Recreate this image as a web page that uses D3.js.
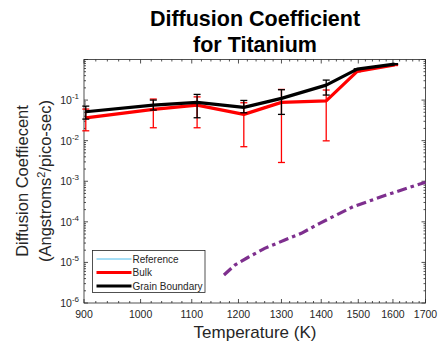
<!DOCTYPE html>
<html>
<head>
<meta charset="utf-8">
<script src="https://cdn.jsdelivr.net/npm/d3@7"></script>
<style>
  body { margin: 0; background: #fff; }
  text { font-family: "Liberation Sans", Arial, sans-serif; }
</style>
</head>
<body>
<div id="chart"></div>
<script>
// temperatures (K) of the simulation points
const temps = [903, 1024, 1111, 1212, 1300, 1413, 1497, 1605];
// bulk diffusion coefficient with error bar ends
const bulk = [0.0366, 0.059, 0.0753, 0.0444, 0.0877, 0.096, 0.51, 0.73];
const bulkLo = [0.0175, 0.0208, 0.0208, 0.0071, 0.0029, 0.0099, 0.5, 0.71];
const bulkHi = [0.06, 0.106, 0.12, 0.086, 0.183, 0.177, 0.52, 0.75];
// grain boundary diffusion coefficient with error bar ends
const grain = [0.0515, 0.0753, 0.0877, 0.066, 0.11, 0.234, 0.58, 0.77];
const grainLo = [0.034, 0.0568, 0.0367, 0.0487, 0.0444, 0.133, 0.57, 0.75];
const grainHi = [0.071, 0.1, 0.138, 0.098, 0.18, 0.311, 0.59, 0.79];
// reference curve (dash-dot purple)
const refT = [1168, 1192, 1222, 1260, 1308, 1349, 1396, 1485, 1580, 1700];
const refD = [4.9e-6, 8.6e-6, 1.34e-5, 2.22e-5, 3.56e-5, 5.2e-5, 9.2e-5, 2.35e-4, 4.57e-4, 9.5e-4];
const xTicks = [900, 1000, 1100, 1200, 1300, 1400, 1500, 1600, 1700];
const yTicks = [1e-6, 1e-5, 1e-4, 1e-3, 1e-2, 1e-1];
const legendNames = ["Reference", "Bulk", "Grain Boundary"];

const W = 439, H = 347;
const margin = {top: 59.5, right: 13.5, bottom: 44, left: 84};
const iw = W - margin.left - margin.right, ih = H - margin.top - margin.bottom;

const svg = d3.select("#chart").append("svg").attr("width", W).attr("height", H);
const g = svg.append("g").attr("transform", "translate(" + margin.left + "," + margin.top + ")");

const x = d3.scaleLog().domain([900, 1700]).range([0, iw]);
const y = d3.scaleLog().domain([1e-6, 1]).range([ih, 0]);

const axisCol = "#262626";

// minor ticks
const xMinor = d3.range(920, 1700, 20).filter(v => v % 100 != 0);
const yMinor = [];
for (let e = -6; e < 0; e++) for (let k = 2; k <= 9; k++) yMinor.push(k * Math.pow(10, e));

const tk = g.append("g").attr("stroke", axisCol).attr("stroke-width", 0.8);
xTicks.forEach(v => {
  tk.append("line").attr("x1", x(v)).attr("x2", x(v)).attr("y1", ih).attr("y2", ih - 4);
  tk.append("line").attr("x1", x(v)).attr("x2", x(v)).attr("y1", 0).attr("y2", 4);
});
xMinor.forEach(v => {
  tk.append("line").attr("x1", x(v)).attr("x2", x(v)).attr("y1", ih).attr("y2", ih - 2);
  tk.append("line").attr("x1", x(v)).attr("x2", x(v)).attr("y1", 0).attr("y2", 2);
});
yTicks.concat([1]).forEach(v => {
  tk.append("line").attr("x1", 0).attr("x2", 4).attr("y1", y(v)).attr("y2", y(v));
  tk.append("line").attr("x1", iw).attr("x2", iw - 4).attr("y1", y(v)).attr("y2", y(v));
});
yMinor.forEach(v => {
  tk.append("line").attr("x1", 0).attr("x2", 2).attr("y1", y(v)).attr("y2", y(v));
  tk.append("line").attr("x1", iw).attr("x2", iw - 2).attr("y1", y(v)).attr("y2", y(v));
});

// box
g.append("rect").attr("width", iw).attr("height", ih)
  .attr("fill", "none").attr("stroke", axisCol).attr("stroke-width", 0.8);

// tick labels
xTicks.forEach(v => {
  g.append("text").attr("x", x(v)).attr("y", ih + 15).attr("text-anchor", "middle")
    .attr("font-size", 10.5).attr("fill", axisCol).text(v);
});
yTicks.forEach(v => {
  const t = g.append("text").attr("x", -5).attr("y", y(v) + 4).attr("text-anchor", "end")
    .attr("font-size", 10.5).attr("fill", axisCol);
  t.append("tspan").text("10");
  t.append("tspan").attr("dy", -5).attr("font-size", 8).text(Math.round(Math.log10(v)));
});

// reference curve
const line = d3.line().x(d => x(d[0])).y(d => y(d[1]));
g.append("path").datum(refT.map((t, i) => [t, refD[i]]))
  .attr("d", line).attr("fill", "none").attr("stroke", "#7E2F8E")
  .attr("stroke-width", 3.2).attr("stroke-dasharray", "10,4,3.5,4");

function series(vals, lo, hi, col) {
  g.append("path").datum(temps.map((t, i) => [t, vals[i]]))
    .attr("d", line).attr("fill", "none").attr("stroke", col)
    .attr("stroke-width", 3.2).attr("stroke-linejoin", "round");
  const eb = g.append("g").attr("stroke", col).attr("stroke-width", 1.3);
  temps.forEach((t, i) => {
    const cx = x(t);
    eb.append("line").attr("x1", cx).attr("x2", cx).attr("y1", y(lo[i])).attr("y2", y(hi[i]));
    eb.append("line").attr("x1", cx - 3.5).attr("x2", cx + 3.5).attr("y1", y(lo[i])).attr("y2", y(lo[i]));
    eb.append("line").attr("x1", cx - 3.5).attr("x2", cx + 3.5).attr("y1", y(hi[i])).attr("y2", y(hi[i]));
  });
}
series(bulk, bulkLo, bulkHi, "#FF0000");
series(grain, grainLo, grainHi, "#000000");

// legend
const lg = g.append("g").attr("transform", "translate(" + (92.5 - margin.left) + "," + (250.5 - margin.top) + ")");
lg.append("rect").attr("width", 112.5).attr("height", 42)
  .attr("fill", "#fff").attr("stroke", axisCol).attr("stroke-width", 0.8);
const legCols = ["#4DBEEE", "#FF0000", "#000000"];
const legW = [1, 3, 3];
legendNames.forEach((n, i) => {
  const yy = 8.5 + i * 13.5;
  lg.append("line").attr("x1", 4).attr("x2", 39).attr("y1", yy).attr("y2", yy)
    .attr("stroke", legCols[i]).attr("stroke-width", legW[i]);
  lg.append("text").attr("x", 40).attr("y", yy + 3.5).attr("font-size", 10)
    .attr("fill", axisCol).text(n);
});

// title and labels
svg.append("text").attr("x", 255).attr("y", 26).attr("text-anchor", "middle")
  .attr("font-size", 21.5).attr("font-weight", "bold").text("Diffusion Coefficient");
svg.append("text").attr("x", 255).attr("y", 52).attr("text-anchor", "middle")
  .attr("font-size", 21.5).attr("font-weight", "bold").text("for Titanium");
svg.append("text").attr("x", 255).attr("y", 338).attr("text-anchor", "middle")
  .attr("font-size", 17).attr("fill", axisCol).text("Temperature (K)");
const yl = svg.append("text").attr("transform", "translate(28,181) rotate(-90)")
  .attr("text-anchor", "middle").attr("font-size", 16.5).attr("fill", axisCol);
yl.append("tspan").attr("x", 0).attr("y", 0).text("Diffusion Coeffiecent");
const yl2 = svg.append("text").attr("transform", "translate(51,181) rotate(-90)")
  .attr("text-anchor", "middle").attr("font-size", 16.5).attr("fill", axisCol);
yl2.append("tspan").text("(Angstroms");
yl2.append("tspan").attr("dy", -6).attr("font-size", 11).text("2");
yl2.append("tspan").attr("dy", 6).text("/pico-sec)");
</script>
</body>
</html>
